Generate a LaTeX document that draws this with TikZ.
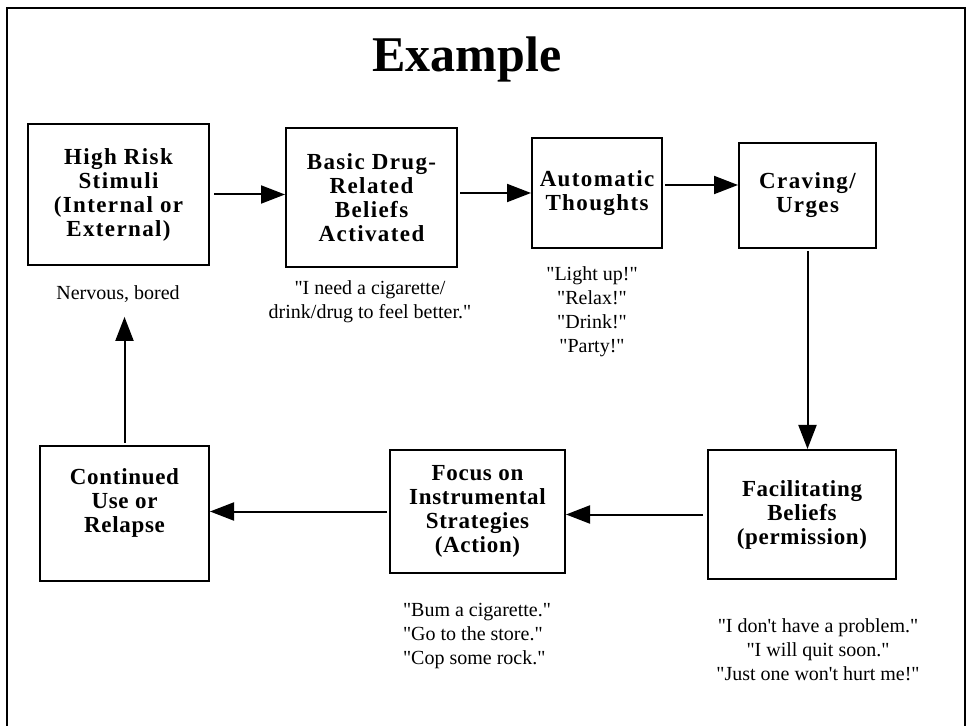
\documentclass[tikz,border=0pt]{standalone}
\usepackage{fontspec}
\setmainfont{Liberation Serif}[Ligatures = TeXOff]
\newfontfamily\stagefont[LetterSpace = 6]{Liberation Serif}
\newfontfamily\lowstagefont[LetterSpace = 3]{Liberation Serif}
\usetikzlibrary{arrows.meta}

\begin{document}
\begin{tikzpicture}[x = 0.5pt, y = -0.5pt, > = {Triangle[length = 12pt, width = 9pt]},
	stage/.style = {draw, line width = 1pt, align = center, inner sep = 0pt,
		font = \stagefont\bfseries\fontsize{11.5}{12}\selectfont},
	lowstage/.style = {stage, font = \lowstagefont\bfseries\fontsize{11.5}{12}\selectfont},
	note/.style = {align = center, inner sep = 1pt, font = \fontsize{10}{12}\selectfont}]

	% Page and frame
	
	\useasboundingbox (0, 0) rectangle (968, 726);
	\draw [line width = 1pt] (7, 726) -- (7, 8) -- (965, 8) -- (965, 726);
	
	\node (title) [anchor = base, font = \bfseries\fontsize{25}{25}\selectfont] at (467, 72) {Example};
	
	% Stages
	
	\node (hrisk) [stage, minimum width = 90.5pt, minimum height = 70.5pt] at (118.5, 194.5) {High Risk\\Stimuli\\(Internal or\\External)};
	\node (basic) [stage, minimum width = 85.5pt, minimum height = 69.5pt] at (371.5, 197.5) {Basic Drug-\\Related\\Beliefs\\Activated};
	\node (auto) [stage, minimum width = 65pt, minimum height = 55pt] at (597, 193) {Automatic\\Thoughts};
	\node (crave) [stage, minimum width = 68.5pt, minimum height = 52.5pt] at (807.5, 195.5) {Craving/\\Urges};
	\node (facil) [lowstage, minimum width = 94pt, minimum height = 64.5pt] at (802, 514.5) {Facilitating\\Beliefs\\(permission)};
	\node (focus) [lowstage, minimum width = 87.5pt, minimum height = 61.5pt] at (477.5, 511.5) {Focus on\\Instrumental\\Strategies\\(Action)};
	\node (relapse) [lowstage, minimum width = 84.5pt, minimum height = 67.5pt] at (124.5, 513.5) {Continued\\Use or\\Relapse\\[1pt]};
	
	% What one says to oneself
	
	\node (nervous) [note] at (118, 294) {Nervous, bored};
	\node (need) [note] at (370, 302) {"I need a cigarette/\\drink/drug to feel better."};
	\node (lightup) [note] at (592, 312) {"Light up!"\\"Relax!"\\"Drink!"\\"Party!"};
	\node (bum) [note, align = left] at (477, 636) {"Bum a cigarette."\\"Go to the store."\\"Cop some rock."};
	\node (problem) [note] at (818, 650) {"I don't have a problem."\\"I will quit soon."\\"Just one won't hurt me!"};
	
	% The cycle
	
	\begin{scope}[->, line width = 1pt]
	
		\draw [shorten <= 2pt] (hrisk.east) -- (hrisk.east -| basic.west);
		\draw [shorten <= 1pt] (auto.west -| basic.east) -- (auto.west);
		\draw [shorten <= 1pt] ([yshift = 4pt] auto.east) -- ([yshift = 4pt] auto.east -| crave.west);
		\draw [shorten <= 1pt] (crave.south) -- (crave.south |- facil.north);
		\draw [shorten <= 2pt] (facil.west) -- (facil.west -| focus.east);
		\draw [shorten <= 1pt] (focus.west) -- (focus.west -| relapse.east);
		\draw [shorten <= 1pt, shorten >= 6pt] (relapse.north) -- (relapse.north |- nervous.south);
		
	\end{scope}

\end{tikzpicture}
\end{document}
